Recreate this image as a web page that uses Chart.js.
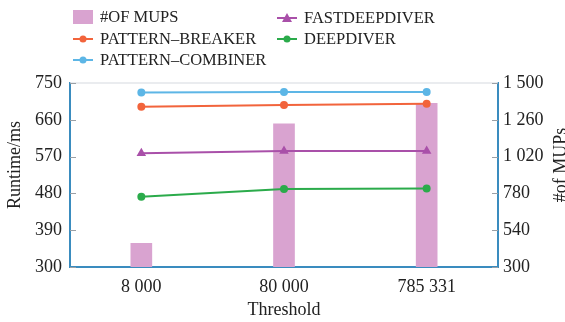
<!DOCTYPE html>
<html><head><meta charset="utf-8">
<script src="https://cdn.jsdelivr.net/npm/chart.js@4/dist/chart.umd.min.js"></script>
<style>html,body{margin:0;padding:0;background:#fff}#wrap{width:565px;height:322px}</style>
</head><body><div id="wrap"><canvas id="c" width="565" height="322"></canvas></div>
<script>
const categories = ['8 000', '80 000', '785 331'];
const mups = [455, 1233, 1368];
const patternBreaker = [692, 696, 699];
const patternCombiner = [727, 728, 728];
const fastDeepDiver = [578, 584, 584];
const deepDiver = [472, 491, 492];
const leftTicks = [300, 390, 480, 570, 660, 750];
const rightTicks = [300, 540, 780, 1020, 1260, 1500];

const FONT = '"Liberation Serif", "DejaVu Serif", serif';
const fmt = v => String(v).replace(/\B(?=(\d{3})+(?!\d))/g, ' ');
const AXIS = '#3a8cbf';

const legendItems = [
  {label: '#OF MUPS', type: 'box', color: '#d9a3d0', x: 73, y: 17},
  {label: 'PATTERN\u2013BREAKER', type: 'circle', color: '#f2643c', x: 73, y: 39},
  {label: 'PATTERN\u2013COMBINER', type: 'circle', color: '#5db6e6', x: 73, y: 60},
  {label: 'FASTDEEPDIVER', type: 'triangle', color: '#a950a9', x: 277, y: 18},
  {label: 'DEEPDIVER', type: 'circle', color: '#2bab4b', x: 277, y: 39}
];

const deco = {
  id: 'deco',
  afterDraw(chart) {
    const ctx = chart.ctx, a = chart.chartArea;
    ctx.save();
    ctx.strokeStyle = '#e3e6ea'; ctx.lineWidth = 1.5;
    ctx.beginPath(); ctx.moveTo(a.left, a.top); ctx.lineTo(a.right, a.top); ctx.stroke();
    ctx.strokeStyle = '#9aa0a6'; ctx.lineWidth = 1;
    const y = chart.scales.y, y2 = chart.scales.y2;
    leftTicks.forEach(v => { const p = Math.round(y.getPixelForValue(v)) + 0.5; ctx.beginPath(); ctx.moveTo(a.left, p); ctx.lineTo(a.left + 6, p); ctx.stroke(); });
    rightTicks.forEach(v => { const p = Math.round(y2.getPixelForValue(v)) + 0.5; ctx.beginPath(); ctx.moveTo(a.right, p); ctx.lineTo(a.right - 6, p); ctx.stroke(); });
    ctx.font = '16.5px ' + FONT; ctx.textBaseline = 'middle';
    legendItems.forEach(it => {
      if (it.type === 'box') {
        ctx.fillStyle = it.color; ctx.fillRect(it.x, it.y - 7, 20, 14);
      } else {
        ctx.strokeStyle = it.color; ctx.lineWidth = 2;
        ctx.beginPath(); ctx.moveTo(it.x, it.y); ctx.lineTo(it.x + 20, it.y); ctx.stroke();
        ctx.fillStyle = it.color; ctx.beginPath();
        if (it.type === 'triangle') { ctx.moveTo(it.x + 10, it.y - 5); ctx.lineTo(it.x + 15, it.y + 4); ctx.lineTo(it.x + 5, it.y + 4); ctx.closePath(); }
        else ctx.arc(it.x + 10, it.y, 3.5, 0, Math.PI * 2);
        ctx.fill();
      }
      ctx.fillStyle = '#222'; ctx.textAlign = 'left';
      ctx.fillText(it.label, it.x + 27, it.y + 1);
    });
    ctx.font = '18px ' + FONT; ctx.textAlign = 'center'; ctx.fillStyle = '#222';
    ctx.save(); ctx.translate(15, 165); ctx.rotate(-Math.PI / 2); ctx.fillText('Runtime/ms', 0, 0); ctx.restore();
    ctx.save(); ctx.translate(561, 165); ctx.rotate(-Math.PI / 2); ctx.fillText('#of MUPs', 0, 0); ctx.restore();
    ctx.restore();
  }
};

new Chart(document.getElementById('c'), {
  data: {
    labels: categories,
    datasets: [
      {type: 'bar', label: '#OF MUPS', data: mups, yAxisID: 'y2', backgroundColor: '#d9a3d0', barThickness: 21, order: 10},
      {type: 'line', label: 'PATTERN-BREAKER', data: patternBreaker, yAxisID: 'y', borderColor: '#f2643c', backgroundColor: '#f2643c', borderWidth: 2, pointRadius: 3, order: 1},
      {type: 'line', label: 'PATTERN-COMBINER', data: patternCombiner, yAxisID: 'y', borderColor: '#5db6e6', backgroundColor: '#5db6e6', borderWidth: 2, pointRadius: 3, order: 1},
      {type: 'line', label: 'FASTDEEPDIVER', data: fastDeepDiver, yAxisID: 'y', borderColor: '#a950a9', backgroundColor: '#a950a9', borderWidth: 2, pointRadius: 3.5, pointStyle: 'triangle', order: 1},
      {type: 'line', label: 'DEEPDIVER', data: deepDiver, yAxisID: 'y', borderColor: '#2bab4b', backgroundColor: '#2bab4b', borderWidth: 2, pointRadius: 3, order: 1}
    ]
  },
  options: {
    responsive: false, animation: false,
    layout: {padding: {top: 83, left: 0, right: 0, bottom: 0}},
    plugins: {legend: {display: false}, tooltip: {enabled: false}},
    scales: {
      x: {
        offset: true,
        grid: {display: false, drawTicks: false},
        border: {color: AXIS, width: 2},
        ticks: {color: '#222', font: {family: FONT, size: 18}, padding: 9},
        title: {display: true, text: 'Threshold', color: '#222', font: {family: FONT, size: 18}, padding: {top: 0, bottom: 1}},
        afterFit: s => { s.height = 55; }
      },
      y: {
        position: 'left', min: 300, max: 750,
        afterBuildTicks: s => { s.ticks = leftTicks.map(v => ({value: v})); },
        grid: {display: false, drawTicks: false},
        border: {color: AXIS, width: 2},
        ticks: {color: '#222', font: {family: FONT, size: 18}, padding: 8, callback: v => fmt(v)},
        afterFit: s => { s.width = 70; }
      },
      y2: {
        position: 'right', min: 300, max: 1500,
        afterBuildTicks: s => { s.ticks = rightTicks.map(v => ({value: v})); },
        grid: {display: false, drawTicks: false},
        border: {color: AXIS, width: 2},
        ticks: {color: '#222', font: {family: FONT, size: 18}, padding: 5, callback: v => fmt(v)},
        afterFit: s => { s.width = 67; }
      }
    }
  },
  plugins: [deco]
});
</script></body></html>
